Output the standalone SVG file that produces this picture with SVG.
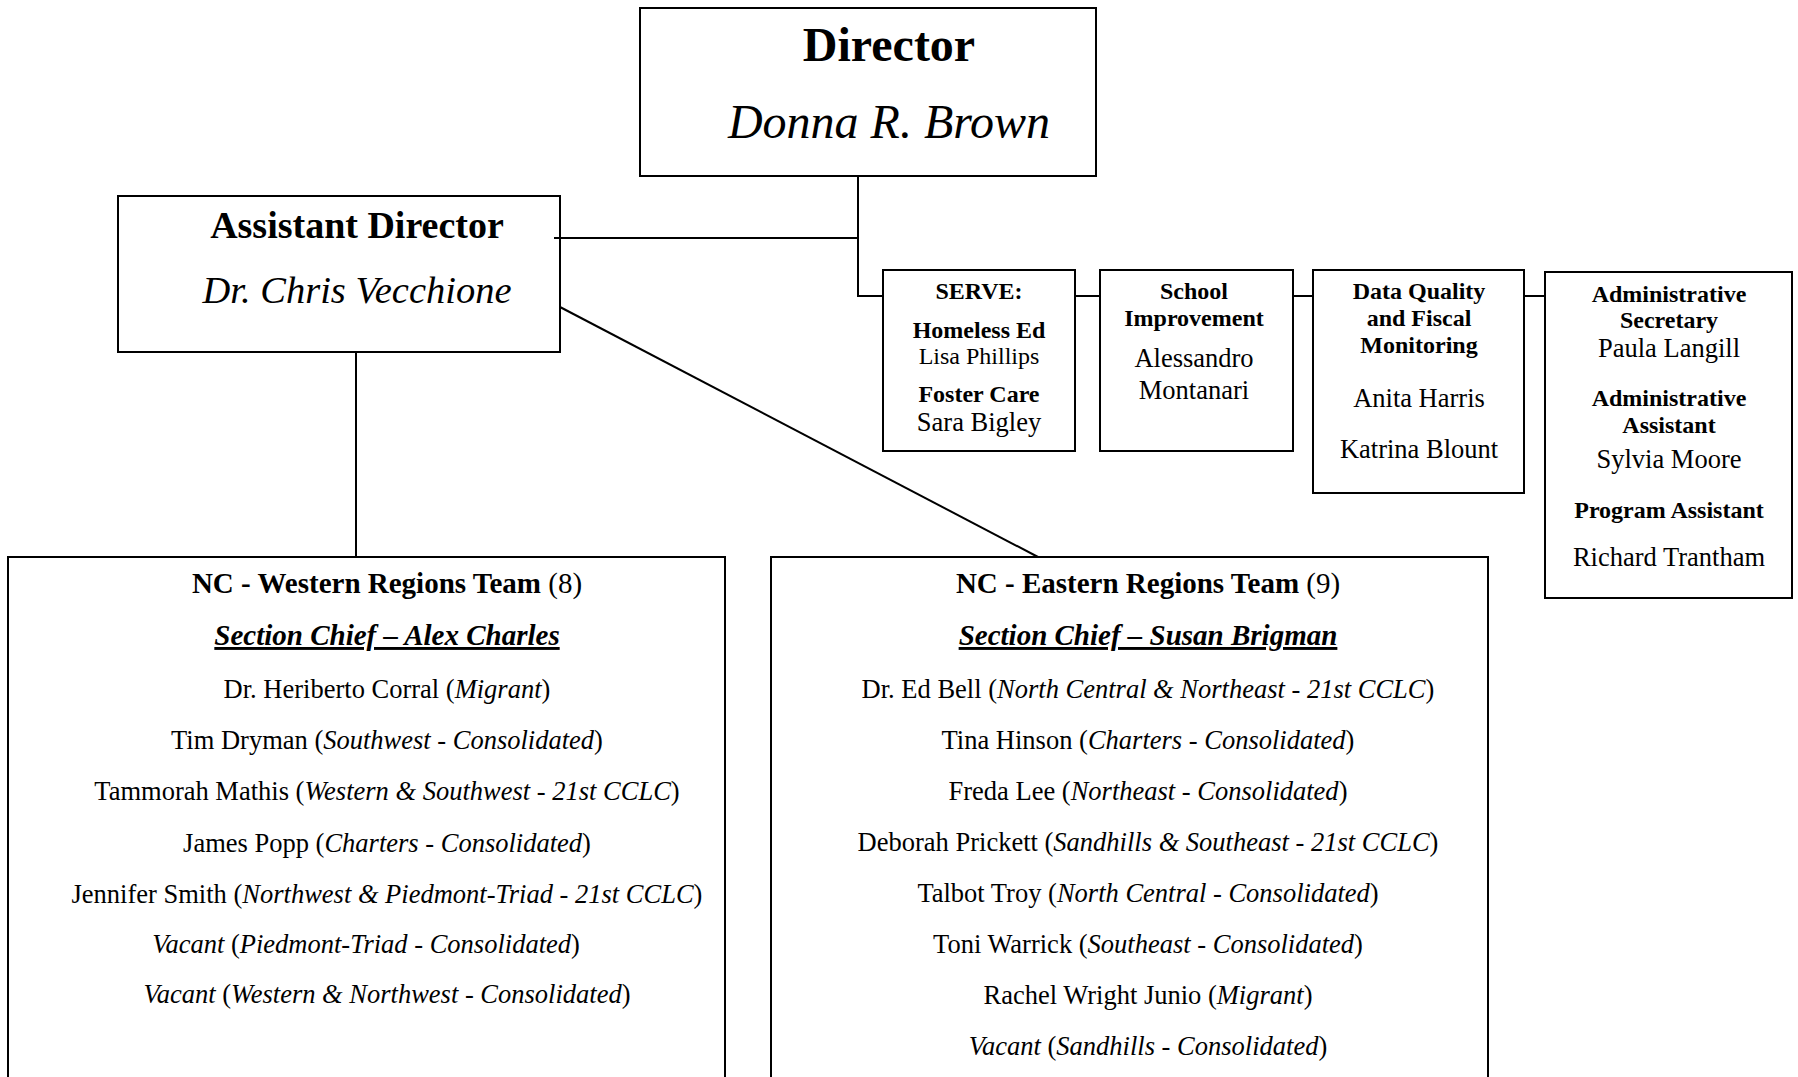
<svg xmlns="http://www.w3.org/2000/svg" width="1798" height="1077" viewBox="0 0 1798 1077">
<style>
.box{fill:#fff;stroke:#000;stroke-width:2}
.ln{fill:none;stroke:#000;stroke-width:2}
text{font-family:"Liberation Serif","Times New Roman",serif;fill:#000;text-anchor:middle}
.b{font-weight:bold}
.i{font-style:italic}
.s24{font-size:24px}
.s26{font-size:26.5px}
.h{font-size:29px}
.u{text-decoration:underline}
</style>
<rect x="0" y="0" width="1798" height="1077" fill="#fff"/>
<g id="director">
<rect class="box" x="640" y="8" width="456" height="168"/>
<text x="889" y="61" class="b" font-size="48">Director</text>
<text x="889" y="138" class="i" font-size="48">Donna R. Brown</text>
</g>
<g id="assistant-director">
<rect class="box" x="118" y="196" width="442" height="156"/>
<text x="357" y="238" class="b" font-size="38">Assistant Director</text>
<text x="357" y="303" class="i" font-size="38.5">Dr. Chris Vecchione</text>
</g>
<g id="serve">
<rect class="box" x="883" y="270" width="192" height="181"/>
<text x="979" y="299" class="b s24">SERVE:</text>
<text x="979" y="338" class="b s24">Homeless Ed</text>
<text x="979" y="364" class="s24">Lisa Phillips</text>
<text x="979" y="402" class="b s24">Foster Care</text>
<text x="979" y="431" class="s26">Sara Bigley</text>
</g>
<g id="school-improvement">
<rect class="box" x="1100" y="270" width="193" height="181"/>
<text x="1194" y="299" class="b s24">School</text>
<text x="1194" y="326" class="b s24">Improvement</text>
<text x="1194" y="367" class="s26">Alessandro</text>
<text x="1194" y="399" class="s26">Montanari</text>
</g>
<g id="data-quality">
<rect class="box" x="1313" y="270" width="211" height="223"/>
<text x="1419" y="299" class="b s24">Data Quality</text>
<text x="1419" y="326" class="b s24">and Fiscal</text>
<text x="1419" y="353" class="b s24">Monitoring</text>
<text x="1419" y="407" class="s26">Anita Harris</text>
<text x="1419" y="458" class="s26">Katrina Blount</text>
</g>
<g id="admin">
<rect class="box" x="1545" y="272" width="247" height="326"/>
<text x="1669" y="302" class="b s24">Administrative</text>
<text x="1669" y="328" class="b s24">Secretary</text>
<text x="1669" y="357" class="s26">Paula Langill</text>
<text x="1669" y="406" class="b s24">Administrative</text>
<text x="1669" y="433" class="b s24">Assistant</text>
<text x="1669" y="468" class="s26">Sylvia Moore</text>
<text x="1669" y="518" class="b s24">Program Assistant</text>
<text x="1669" y="566" class="s26">Richard Trantham</text>
</g>
<g id="western-team">
<rect class="box" x="8" y="557" width="717" height="540"/>
<text x="387" y="593" class="h"><tspan class="b">NC - Western Regions Team </tspan>(8)</text>
<text x="387" y="645" class="h b i u">Section Chief – Alex Charles</text>
<text x="387" y="698" class="s26">Dr. Heriberto Corral (<tspan class="i">Migrant</tspan>)</text>
<text x="387" y="749" class="s26">Tim Dryman (<tspan class="i">Southwest - Consolidated</tspan>)</text>
<text x="387" y="800" class="s26">Tammorah Mathis (<tspan class="i">Western &amp; Southwest - 21st CCLC</tspan>)</text>
<text x="387" y="852" class="s26">James Popp (<tspan class="i">Charters - Consolidated</tspan>)</text>
<text x="387" y="903" class="s26">Jennifer Smith (<tspan class="i">Northwest &amp; Piedmont-Triad - 21st CCLC</tspan>)</text>
<text x="366" y="953" class="s26"><tspan class="i">Vacant</tspan> (<tspan class="i">Piedmont-Triad - Consolidated</tspan>)</text>
<text x="387" y="1003" class="s26"><tspan class="i">Vacant</tspan> (<tspan class="i">Western &amp; Northwest - Consolidated</tspan>)</text>
</g>
<g id="eastern-team">
<rect class="box" x="771" y="557" width="717" height="540"/>
<text x="1148" y="593" class="h"><tspan class="b">NC - Eastern Regions Team </tspan>(9)</text>
<text x="1148" y="645" class="h b i u">Section Chief – Susan Brigman</text>
<text x="1148" y="698" class="s26">Dr. Ed Bell (<tspan class="i">North Central &amp; Northeast - 21st CCLC</tspan>)</text>
<text x="1148" y="749" class="s26">Tina Hinson (<tspan class="i">Charters - Consolidated</tspan>)</text>
<text x="1148" y="800" class="s26">Freda Lee (<tspan class="i">Northeast - Consolidated</tspan>)</text>
<text x="1148" y="851" class="s26">Deborah Prickett (<tspan class="i">Sandhills &amp; Southeast - 21st CCLC</tspan>)</text>
<text x="1148" y="902" class="s26">Talbot Troy (<tspan class="i">North Central - Consolidated</tspan>)</text>
<text x="1148" y="953" class="s26">Toni Warrick (<tspan class="i">Southeast - Consolidated</tspan>)</text>
<text x="1148" y="1004" class="s26">Rachel Wright Junio (<tspan class="i">Migrant</tspan>)</text>
<text x="1148" y="1055" class="s26"><tspan class="i">Vacant</tspan> (<tspan class="i">Sandhills - Consolidated</tspan>)</text>
</g>
<g id="connectors">
<path class="ln" d="M858 176 V296 H883"/>
<path class="ln" d="M554 238 H858"/>
<path class="ln" d="M1075 296 H1100 M1293 296 H1313 M1524 296 H1545"/>
<path class="ln" d="M356 352 V557"/>
<path class="ln" d="M560 307 L1038 557"/>
</g>
</svg>
